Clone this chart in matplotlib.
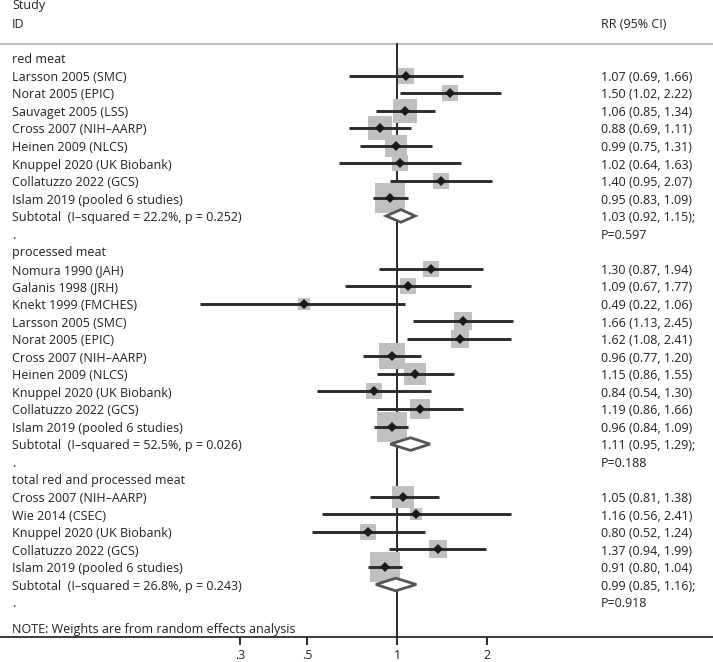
import numpy as np
import matplotlib.pyplot as plt
from matplotlib.patches import Polygon

plt.rcParams['font.family'] = ['Open Sans', 'DejaVu Sans']

# red meat
red_labels = ["Larsson 2005 (SMC)", "Norat 2005 (EPIC)", "Sauvaget 2005 (LSS)",
              "Cross 2007 (NIH\u2013AARP)", "Heinen 2009 (NLCS)", "Knuppel 2020 (UK Biobank)",
              "Collatuzzo 2022 (GCS)", "Islam 2019 (pooled 6 studies)"]
red_rr = [1.07, 1.50, 1.06, 0.88, 0.99, 1.02, 1.40, 0.95]
red_lo = [0.69, 1.02, 0.85, 0.69, 0.75, 0.64, 0.95, 0.83]
red_hi = [1.66, 2.22, 1.34, 1.11, 1.31, 1.63, 2.07, 1.09]
red_w = [6.3, 8.0, 16.0, 14.7, 13.4, 6.3, 8.0, 25.0]
red_sub = [1.03, 0.92, 1.15]
red_het = "Subtotal  (I\u2013squared = 22.2%, p = 0.252)"
red_p = "P=0.597"

# processed meat
proc_labels = ["Nomura 1990 (JAH)", "Galanis 1998 (JRH)", "Knekt 1999 (FMCHES)",
               "Larsson 2005 (SMC)", "Norat 2005 (EPIC)", "Cross 2007 (NIH\u2013AARP)",
               "Heinen 2009 (NLCS)", "Knuppel 2020 (UK Biobank)", "Collatuzzo 2022 (GCS)",
               "Islam 2019 (pooled 6 studies)"]
proc_rr = [1.30, 1.09, 0.49, 1.66, 1.62, 0.96, 1.15, 0.84, 1.19, 0.96]
proc_lo = [0.87, 0.67, 0.22, 1.13, 1.08, 0.77, 0.86, 0.54, 0.86, 0.84]
proc_hi = [1.94, 1.77, 1.06, 2.45, 2.41, 1.20, 1.55, 1.30, 1.66, 1.09]
proc_w = [8.0, 7.1, 3.4, 9.0, 9.0, 17.4, 13.4, 8.0, 11.1, 25.0]
proc_sub = [1.11, 0.95, 1.29]
proc_het = "Subtotal  (I\u2013squared = 52.5%, p = 0.026)"
proc_p = "P=0.188"

# total red and processed meat
tot_labels = ["Cross 2007 (NIH\u2013AARP)", "Wie 2014 (CSEC)", "Knuppel 2020 (UK Biobank)",
              "Collatuzzo 2022 (GCS)", "Islam 2019 (pooled 6 studies)"]
tot_rr = [1.05, 1.16, 0.80, 1.37, 0.91]
tot_lo = [0.81, 0.56, 0.52, 0.94, 0.80]
tot_hi = [1.38, 2.41, 1.24, 1.99, 1.04]
tot_w = [13.4, 3.4, 8.0, 9.0, 25.0]
tot_sub = [0.99, 0.85, 1.16]
tot_het = "Subtotal  (I\u2013squared = 26.8%, p = 0.243)"
tot_p = "P=0.918"

groups = [
    ("red meat", red_labels, red_rr, red_lo, red_hi, red_w, red_sub, red_het, red_p),
    ("processed meat", proc_labels, proc_rr, proc_lo, proc_hi, proc_w, proc_sub, proc_het, proc_p),
    ("total red and processed meat", tot_labels, tot_rr, tot_lo, tot_hi, tot_w, tot_sub, tot_het, tot_p),
]
ticks = [0.3, 0.5, 1, 2]
tick_labels = [".3", ".5", "1", "2"]

W, H = 713, 662
fig = plt.figure(figsize=(W / 100, H / 100), dpi=100)
ax = fig.add_axes([0, 0, 1, 1])
ax.set_xscale('log')

# pixel layout: x=1 at 397 px, 130 px per log unit; row 0 at 58 px, 17.55 px per row
x0, k = 397, 130
ax.set_xlim(np.exp(-x0 / k), np.exp((W - x0) / k))
r0, dr = 58, 17.55
ax.set_ylim((H - r0) / dr, -r0 / dr)

fs = 9.0
tc = '#222222'
xl = 12 / W
xr = 601 / W
tr = ax.get_yaxis_transform()
base = 0.3

ax.text(xl, -2.8, "Study", transform=tr, fontsize=fs, color=tc, va='baseline')
ax.text(xl, -1.72, "ID", transform=tr, fontsize=fs, color=tc, va='baseline')
ax.text(xr, -1.72, "RR (95% CI)", transform=tr, fontsize=fs, color=tc, va='baseline')
ax.axhline(-0.8, color='#bbbbbb', lw=1.5, zorder=1)

row = 0
for name, labels, rr, lo, hi, w, sub, het, p in groups:
    ax.text(xl, row + base, name, transform=tr, fontsize=fs, color=tc, va='baseline')
    row += 1
    for i in range(len(labels)):
        side = 6 * np.sqrt(w[i]) * 0.72
        ax.plot(rr[i], row, marker='s', ms=side, color='#c0c0c0', mew=0, zorder=3)
        ax.plot([lo[i], hi[i]], [row, row], color='#2b2b2b', lw=2.1, solid_capstyle='butt', zorder=4)
        ax.plot(rr[i], row, marker='D', ms=4.6, color='#1a1a1a', mew=0, zorder=5)
        ax.text(xl, row + base, labels[i], transform=tr, fontsize=fs, color=tc, va='baseline')
        ax.text(xr, row + base, f"{rr[i]:.2f} ({lo[i]:.2f}, {hi[i]:.2f})", transform=tr,
                fontsize=fs, color=tc, va='baseline')
        row += 1
    est, slo, shi = sub
    hh = 0.36
    dia = Polygon([(slo, row), (est, row - hh), (shi, row), (est, row + hh)], closed=True,
                  facecolor='white', edgecolor='#555555', lw=2.0, zorder=4)
    ax.add_patch(dia)
    ax.text(xl, row + base, het, transform=tr, fontsize=fs, color=tc, va='baseline')
    ax.text(xr, row + base, f"{est:.2f} ({slo:.2f}, {shi:.2f});", transform=tr,
            fontsize=fs, color=tc, va='baseline')
    row += 1
    ax.text(xl, row + base, ".", transform=tr, fontsize=fs, color=tc, va='baseline')
    ax.text(xr, row + base, p, transform=tr, fontsize=fs, color=tc, va='baseline')
    row += 1

# the note sits just above the axis line
ax.text(xl, row + 0.76, "NOTE: Weights are from random effects analysis", transform=tr,
        fontsize=fs, color=tc, va='baseline')

# reference line at 1
ax.plot([1, 1], [-0.8, row + 1], color='#2b2b2b', lw=1.4, zorder=2)

# x axis across the whole width
for s in ['top', 'right', 'left']:
    ax.spines[s].set_visible(False)
ax.spines['bottom'].set_position(('data', row + 1))
ax.spines['bottom'].set_color('#2b2b2b')
ax.spines['bottom'].set_linewidth(1.3)
ax.set_xticks(ticks)
ax.set_xticklabels(tick_labels)
ax.xaxis.set_minor_locator(plt.NullLocator())
ax.tick_params(axis='x', direction='out', length=5.8, width=1.4, color='#2b2b2b',
               labelsize=fs, labelcolor=tc, pad=2.5)
ax.set_yticks([])

fig.savefig("out.png", dpi=100)
